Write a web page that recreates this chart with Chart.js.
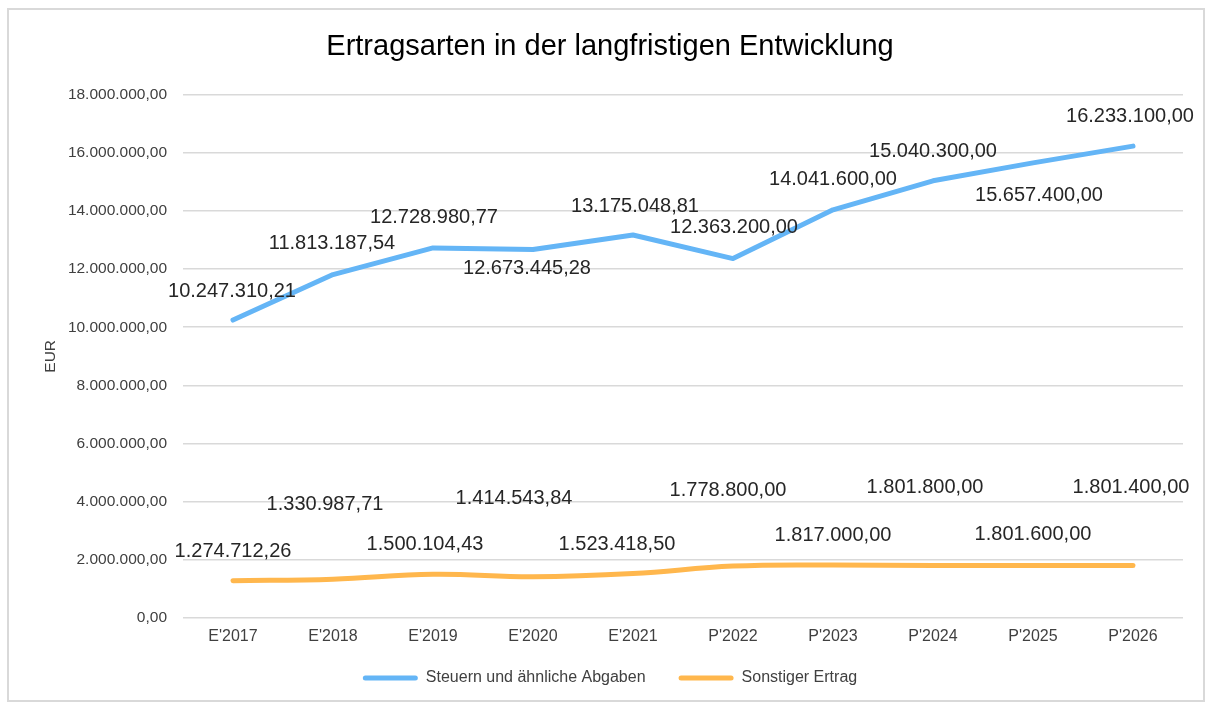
<!DOCTYPE html>
<html>
<head>
<meta charset="utf-8">
<script src="https://cdn.jsdelivr.net/npm/chart.js@4.4.0/dist/chart.umd.min.js"></script>
<style>
html, body { margin: 0; padding: 0; background: #fff; }
#frame { position: absolute; left: 7px; top: 8px; width: 1194px; height: 690px; border: 2px solid #D9D9D9; }
#wrap { position: absolute; left: 0; top: 0; width: 1210px; height: 704px; }
</style>
</head>
<body>
<div id="frame"></div>
<div id="wrap"><canvas id="chart"></canvas></div>
<script>
var categories = ["E'2017", "E'2018", "E'2019", "E'2020", "E'2021", "P'2022", "P'2023", "P'2024", "P'2025", "P'2026"];
var steuern = [10247310.21, 11813187.54, 12728980.77, 12673445.28, 13175048.81, 12363200.00, 14041600.00, 15040300.00, 15657400.00, 16233100.00];
var sonstiger = [1274712.26, 1330987.71, 1500104.43, 1414543.84, 1523418.50, 1778800.00, 1817000.00, 1801800.00, 1801600.00, 1801400.00];
var yTicks = [0, 2000000, 4000000, 6000000, 8000000, 10000000, 12000000, 14000000, 16000000, 18000000];

// label placement (dx, dy from the point), as in the original chart
var steuernLabelPos = [[-1, -29], [-1, -31], [1, -30], [-6, 19], [2, -29], [1, -31], [0, -30], [0, -29], [6, 33], [-3, -30]];
var sonstigerLabelPos = [[0, -29], [-8, -75], [-8, -30], [-19, -78], [-16, -29], [-5, -76], [0, -30], [-8, -78], [0, -31], [-2, -78]];

function formatEUR(v) {
    var parts = v.toFixed(2).split('.');
    return parts[0].replace(/\B(?=(\d{3})+(?!\d))/g, '.') + ',' + parts[1];
}

Chart.defaults.font.family = '"Liberation Sans", Arial, sans-serif';
Chart.defaults.color = '#404040';

var valueLabels = {
    id: 'valueLabels',
    afterLayout: function(chart) {
        // pull the legend up, closer to the axis labels
        chart.legend.top -= 18;
        chart.legend.bottom -= 18;
    },
    afterDatasetsDraw: function(chart) {
        var ctx = chart.ctx;
        var positions = [steuernLabelPos, sonstigerLabelPos];
        ctx.save();
        ctx.font = '20px "Liberation Sans", Arial, sans-serif';
        ctx.fillStyle = '#262626';
        ctx.textAlign = 'center';
        ctx.textBaseline = 'middle';
        chart.data.datasets.forEach(function(ds, d) {
            var meta = chart.getDatasetMeta(d);
            meta.data.forEach(function(pt, i) {
                var off = positions[d][i];
                ctx.fillText(formatEUR(ds.data[i]), pt.x + off[0], pt.y + off[1]);
            });
        });
        ctx.restore();
    }
};

var context = document.getElementById('chart').getContext('2d');
var chart = new Chart(context, {
    type: 'line',
    data: {
        labels: categories,
        datasets: [
            {
                label: 'Steuern und ähnliche Abgaben',
                data: steuern,
                borderColor: '#64B5F6',
                backgroundColor: '#64B5F6',
                borderWidth: 5,
                borderCapStyle: 'round',
                borderJoinStyle: 'round',
                pointRadius: 0,
                tension: 0
            },
            {
                label: 'Sonstiger Ertrag',
                data: sonstiger,
                borderColor: '#FFB74D',
                backgroundColor: '#FFB74D',
                borderWidth: 5,
                borderCapStyle: 'round',
                borderJoinStyle: 'round',
                pointRadius: 0,
                tension: 0.4
            }
        ]
    },
    options: {
        responsive: true,
        maintainAspectRatio: false,
        devicePixelRatio: 1,
        animation: false,
        layout: { padding: { left: 37, right: 27, top: 15, bottom: -10 } },
        scales: {
            x: {
                offset: true,
                grid: { display: false, drawTicks: false },
                border: { display: false },
                ticks: { font: { size: 16 }, padding: 9 }
            },
            y: {
                min: 0,
                max: 18000000,
                afterBuildTicks: function(scale) {
                    scale.ticks = yTicks.map(function(v) { return { value: v }; });
                },
                afterFit: function(scale) { scale.width = 146; },
                ticks: {
                    font: { size: 15.5 },
                    padding: 16,
                    callback: function(v) { return formatEUR(v); }
                },
                grid: { color: '#D9D9D9', lineWidth: 1.5, drawTicks: false },
                border: { display: false },
                title: { display: true, text: 'EUR', font: { size: 15.5 }, padding: 4 }
            }
        },
        plugins: {
            title: {
                display: true,
                text: 'Ertragsarten in der langfristigen Entwicklung',
                color: '#000',
                font: { size: 29, weight: 'normal' },
                padding: { top: 15, bottom: 30 }
            },
            legend: {
                position: 'bottom',
                labels: {
                    boxWidth: 55,
                    boxHeight: 5,
                    padding: 33,
                    font: { size: 16 },
                    useBorderRadius: true,
                    borderRadius: 2.5,
                    generateLabels: function(c) {
                        var items = Chart.defaults.plugins.legend.labels.generateLabels(c);
                        items.forEach(function(it) { it.lineWidth = 0; it.fillStyle = it.strokeStyle; });
                        return items;
                    }
                }
            },
            tooltip: { enabled: false }
        }
    },
    plugins: [valueLabels]
});
</script>
</body>
</html>
